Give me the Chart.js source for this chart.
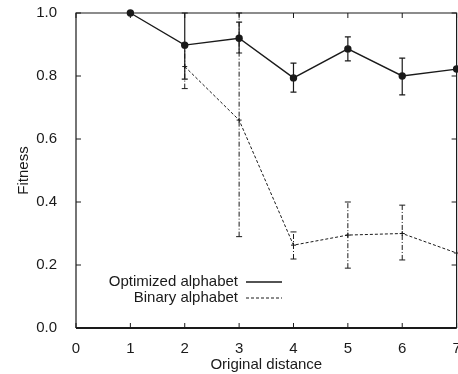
<!DOCTYPE html>
<html>
<head>
<meta charset="utf-8">
<script src="https://cdn.jsdelivr.net/npm/chart.js@4.4.1/dist/chart.umd.min.js"></script>
<style>
  html, body { margin: 0; padding: 0; overflow: hidden; background: #fff; }
  canvas { display: block; }
</style>
</head>
<body>
<canvas id="fitnessChart" width="462" height="374"></canvas>
<script>
const distances = [1, 2, 3, 4, 5, 6, 7];

const optimized     = [1.0, 0.898, 0.92, 0.794, 0.886, 0.80, 0.822];
const optimizedLow  = [1.0, 0.79, 0.873, 0.749, 0.848, 0.74, null];
const optimizedHigh = [1.0, 1.0, 0.971, 0.841, 0.924, 0.857, null];

const binary     = [null, 0.83, 0.66, 0.263, 0.295, 0.30, 0.238];
const binaryLow  = [null, 0.76, 0.29, 0.219, 0.19, 0.216, null];
const binaryHigh = [null, 0.90, 1.0, 0.305, 0.40, 0.39, null];

const xTicks = [0, 1, 2, 3, 4, 5, 6, 7];
const yTicks = [0, 0.2, 0.4, 0.6, 0.8, 1.0];

const ink = '#1a1a1a';
const font = 'Liberation Sans, Arial, Helvetica, sans-serif';

function points(values) {
  return distances.map((d, i) => ({ x: d, y: values[i] })).filter(p => p.y !== null);
}

// error bars, drawn through the chart scales
const errorBars = {
  id: 'errorBars',
  afterDatasetsDraw(chart) {
    const { ctx, chartArea, scales: { x, y } } = chart;
    ctx.save();
    ctx.beginPath();
    ctx.rect(chartArea.left, chartArea.top - 1, chartArea.right - chartArea.left, chartArea.bottom - chartArea.top + 1);
    ctx.clip();
    chart.data.datasets.forEach(ds => {
      ctx.strokeStyle = ink;
      ctx.lineWidth = ds.errWidth;
      ctx.setLineDash(ds.errDash);
      distances.forEach((d, i) => {
        const lo = ds.low[i], hi = ds.high[i];
        if (lo === null || hi === null) return;
        const px = x.getPixelForValue(d);
        const pLo = y.getPixelForValue(lo), pHi = y.getPixelForValue(hi);
        ctx.beginPath();
        ctx.moveTo(px, pLo);
        ctx.lineTo(px, pHi);
        ctx.stroke();
        ctx.setLineDash([]);
        ctx.beginPath();
        ctx.moveTo(px - 3, pLo); ctx.lineTo(px + 3, pLo);
        ctx.moveTo(px - 3, pHi); ctx.lineTo(px + 3, pHi);
        ctx.stroke();
        ctx.setLineDash(ds.errDash);
      });
    });
    ctx.restore();
  }
};

// frame with inward ticks on all four sides
const frame = {
  id: 'frame',
  afterDraw(chart) {
    const { ctx, chartArea: a, scales: { x, y } } = chart;
    ctx.save();
    ctx.strokeStyle = ink;
    ctx.lineWidth = 1.2;
    ctx.beginPath();
    ctx.moveTo(a.left, a.bottom); ctx.lineTo(a.left, a.top);
    ctx.lineTo(a.right, a.top); ctx.lineTo(a.right, a.bottom);
    ctx.stroke();
    ctx.lineWidth = 2;
    ctx.beginPath();
    ctx.moveTo(a.left, a.bottom); ctx.lineTo(a.right, a.bottom);
    ctx.stroke();
    ctx.lineWidth = 1;
    ctx.beginPath();
    xTicks.forEach(v => {
      const px = x.getPixelForValue(v);
      ctx.moveTo(px, a.bottom); ctx.lineTo(px, a.bottom - 5);
      ctx.moveTo(px, a.top); ctx.lineTo(px, a.top + 5);
    });
    yTicks.forEach(v => {
      const py = y.getPixelForValue(v);
      ctx.moveTo(a.left, py); ctx.lineTo(a.left + 5, py);
      ctx.moveTo(a.right, py); ctx.lineTo(a.right - 5, py);
    });
    ctx.stroke();
    ctx.restore();
  }
};

// gnuplot style key: label first, then line sample
const key = {
  id: 'key',
  afterDraw(chart) {
    const { ctx } = chart;
    ctx.save();
    ctx.font = '15px ' + font;
    ctx.fillStyle = ink;
    ctx.textAlign = 'right';
    ctx.textBaseline = 'middle';
    chart.data.datasets.forEach((ds, i) => {
      const ty = 282 + i * 16;
      ctx.fillText(ds.label, 238, ty);
      ctx.strokeStyle = ink;
      ctx.lineWidth = ds.borderWidth;
      ctx.setLineDash(ds.borderDash || []);
      ctx.beginPath();
      ctx.moveTo(246, ty); ctx.lineTo(282, ty);
      ctx.stroke();
    });
    ctx.restore();
  }
};

new Chart(document.getElementById('fitnessChart'), {
  type: 'line',
  data: {
    datasets: [
      {
        label: 'Optimized alphabet',
        data: points(optimized),
        low: optimizedLow,
        high: optimizedHigh,
        borderColor: ink,
        backgroundColor: ink,
        borderWidth: 1.4,
        pointRadius: 3,
        pointStyle: 'circle',
        errWidth: 1.2,
        errDash: [],
        tension: 0
      },
      {
        label: 'Binary alphabet',
        data: points(binary),
        low: binaryLow,
        high: binaryHigh,
        borderColor: ink,
        backgroundColor: ink,
        borderWidth: 1,
        borderDash: [3, 2],
        pointRadius: 2.5,
        pointStyle: 'cross',
        errWidth: 1,
        errDash: [5, 2, 1, 2],
        tension: 0
      }
    ]
  },
  options: {
    responsive: false,
    animation: false,
    clip: false,
    layout: { padding: { top: 13, right: 2, left: 0, bottom: 0 } },
    plugins: {
      legend: { display: false },
      tooltip: { enabled: false }
    },
    scales: {
      x: {
        type: 'linear',
        min: 0,
        max: 7,
        afterFit(scale) {
          scale.height = 46;
          scale.paddingLeft = 0;
          scale.paddingRight = 0;
        },
        afterBuildTicks(scale) { scale.ticks = xTicks.map(v => ({ value: v })); },
        grid: { display: false },
        border: { display: false },
        ticks: {
          color: ink,
          font: { family: font, size: 15 },
          padding: 4,
          callback: v => String(v)
        },
        title: {
          display: true,
          text: 'Original distance',
          color: ink,
          font: { family: font, size: 15 },
          padding: { top: 0, bottom: 0 }
        }
      },
      y: {
        min: 0,
        max: 1,
        afterFit(scale) {
          scale.width = 76;
          scale.paddingTop = 0;
          scale.paddingBottom = 0;
        },
        afterBuildTicks(scale) { scale.ticks = yTicks.map(v => ({ value: v })); },
        grid: { display: false },
        border: { display: false },
        ticks: {
          color: ink,
          font: { family: font, size: 15 },
          padding: 11,
          callback: v => v.toFixed(1)
        },
        title: {
          display: true,
          text: 'Fitness',
          color: ink,
          font: { family: font, size: 15 },
          padding: { top: 15, bottom: 0 }
        }
      }
    }
  },
  plugins: [errorBars, frame, key]
});
</script>
</body>
</html>
